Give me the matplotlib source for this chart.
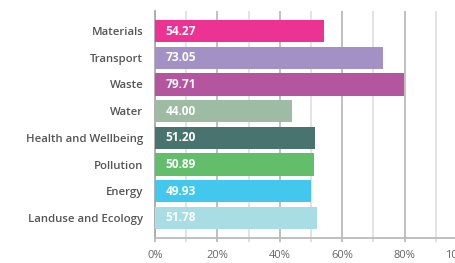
import matplotlib
matplotlib.use("Agg")
import matplotlib.pyplot as plt
import matplotlib.transforms as mtransforms
from matplotlib.ticker import MultipleLocator, FuncFormatter

categories = ["Materials", "Transport", "Waste", "Water", "Health and Wellbeing",
              "Pollution", "Energy", "Landuse and Ecology"]
values = [54.27, 73.05, 79.71, 44.00, 51.20, 50.89, 49.93, 51.78]
colors = ["#EC3394", "#A391C6", "#B3559F", "#9EBBA3", "#48736F",
          "#62BE6B", "#42C8EE", "#A8DDE3"]
xticks = [0, 20, 40, 60, 80, 100]

plt.rcParams['font.family'] = ['Open Sans', 'DejaVu Sans']

fig = plt.figure(figsize=(4.55, 2.63), dpi=100)
ax = fig.add_axes([155/455, 1 - 238/263, 312/455, (238 - 11)/263])

y = list(range(len(categories)))
ax.barh(y, values, height=0.83, color=colors, zorder=3)
for yi, v in zip(y, values):
    ax.text(3.4, yi, f"{v:.2f}", color="white", fontweight="bold",
            fontsize=8.6, va="center", ha="left", zorder=4)

ax.set_xlim(0, 100)
ax.set_ylim(7.75, -0.75)
ax.set_yticks(y)
ax.set_yticklabels(categories, fontsize=8.2, color="#555555", fontweight="semibold")
ax.tick_params(axis="y", length=0, pad=8.5)

ax.set_xticks(xticks)
ax.xaxis.set_minor_locator(MultipleLocator(10))
ax.xaxis.set_major_formatter(FuncFormatter(lambda v, p: f"{v:.0f}%"))
ax.tick_params(axis="x", which="major", length=3, width=1.3, color="#BBBBBB",
               labelsize=8, labelcolor="#666666", pad=5.5)
ax.tick_params(axis="x", which="minor", length=3, width=1.3, color="#DDDDDD")

ax.grid(axis="x", which="major", color="#BBBBBB", linewidth=1.3, zorder=0)
ax.grid(axis="x", which="minor", color="#E0E0E0", linewidth=1.3, zorder=0)
ax.set_axisbelow(True)

for s in ["top", "right"]:
    ax.spines[s].set_visible(False)
ax.spines["left"].set_color("#AAAAAA")
ax.spines["left"].set_linewidth(1.3)
ax.spines["bottom"].set_color("#BBBBBB")
ax.spines["bottom"].set_linewidth(1.3)

# last tick label is nudged left so it peeks into view, as in the reference
fig.canvas.draw()
last = ax.get_xticklabels()[-1]
last.set_transform(last.get_transform() +
                   mtransforms.ScaledTranslation(-8/100, 0, fig.dpi_scale_trans))

fig.savefig("out.png", dpi=100)
